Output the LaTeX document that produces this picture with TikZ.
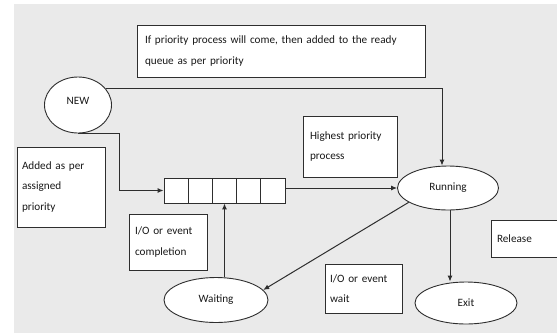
\documentclass[tikz,border=0pt]{standalone}
\usepackage{fontspec}
\setmainfont{Carlito}
\usetikzlibrary{arrows.meta,shapes.geometric}
\definecolor{bg}{HTML}{EAEAEA}
\definecolor{ln}{HTML}{2E2E2E}
\tikzset{
  every node/.style={font=\fontsize{11.2}{20.5}\selectfont, text=black!90},
  box/.style={draw=ln, fill=white, line width=0.9pt, inner sep=0pt, align=left},
  oval/.style={draw=ln, fill=white, ellipse, line width=0.9pt, inner sep=0pt},
  cell/.style={draw=ln, fill=white, line width=0.9pt, minimum width=24.2pt, minimum height=25pt, inner sep=0pt},
  arr/.style={draw=ln, line width=1pt, -{Latex[length=6pt,width=5pt]}},
}
\begin{document}
\begin{tikzpicture}[x=1pt,y=-1pt]
\useasboundingbox (0,0) rectangle (557,333);
\fill[bg] (14,4) rectangle (557,333);
% text boxes
\node[box, minimum width=288pt, minimum height=52pt, text width=272pt] (top) at (281,51)
  {If priority process will come, then added to the ready\\queue as per priority};
\node[box, minimum width=88pt, minimum height=80pt, text width=78pt] (added) at (61,187)
  {Added as per\\assigned\\priority};
\node[box, minimum width=94pt, minimum height=61pt, text width=80pt] (high) at (350,146.5)
  {Highest priority\\process};
\node[box, minimum width=78pt, minimum height=56pt, text width=66pt] (ioc) at (168,242)
  {I/O or event\\completion};
\node[box, minimum width=77pt, minimum height=49pt, text width=67pt] (iow) at (363.5,288.5)
  {I/O or event\\wait};
\node[box, minimum width=72pt, minimum height=37pt, text width=60pt] (rel) at (527,238.5)
  {Release};
% states
\node[oval, minimum width=67pt, minimum height=56pt] (new) at (78,105) {\raisebox{8pt}{NEW}\hspace{10pt}};
\node[oval, minimum width=101pt, minimum height=44pt] (run) at (448,188) {Running\hspace{14pt}};
\node[oval, minimum width=104pt, minimum height=45pt] (wait) at (216,300) {Waiting\hspace{18pt}};
\node[oval, minimum width=102pt, minimum height=42pt] (exit) at (466,303) {Exit\hspace{8pt}};
% queue
\node[cell] (q1) at (176.1,190.5) {};
\node[cell] (q2) at (200.3,190.5) {};
\node[cell] (q3) at (224.5,190.5) {};
\node[cell] (q4) at (248.7,190.5) {};
\node[cell] (q5) at (272.9,190.5) {};
% connectors
\draw[arr] (new.30) -| ([xshift=-6pt]run.north);
\draw[arr] (new.south) -- ++(41,0) |- (q1.west);
\draw[arr] (q5.east |- run.west) -- (run.west);
\draw[arr] (wait.north -| q3.south) -- (q3.south);
\draw[arr] (run.200) -- (wait.12);
\draw[arr] ([xshift=2pt]run.south) -- ([xshift=2pt]run.south |- exit.north);
\end{tikzpicture}
\end{document}
